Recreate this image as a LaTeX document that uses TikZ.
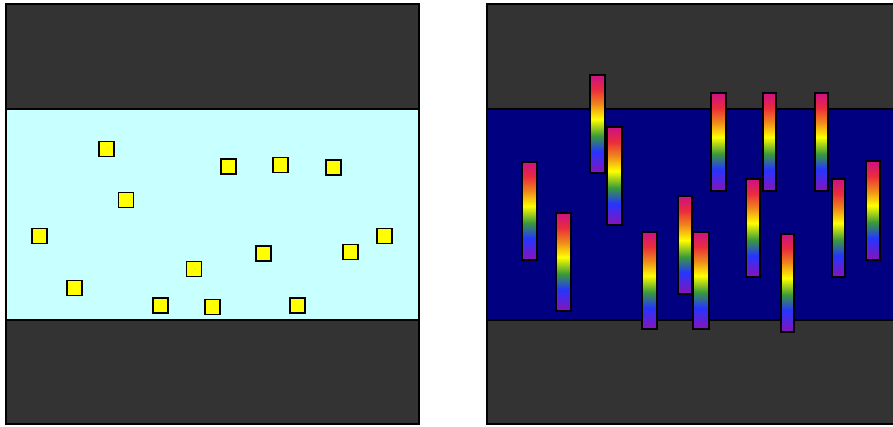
\documentclass[tikz,border=0pt]{standalone}
\usetikzlibrary{shadings}
\definecolor{band}{HTML}{333333}
\definecolor{lcyan}{HTML}{C8FFFF}
\definecolor{navyc}{HTML}{000080}
\definecolor{ryellow}{HTML}{FFFF00}
\definecolor{rbpurple}{HTML}{8A12B8}
\definecolor{rbblue}{HTML}{2535FF}
\definecolor{rbgreen}{HTML}{3A9A3A}
\definecolor{rbyellow}{HTML}{FFFF00}
\definecolor{rborange}{HTML}{F08A1A}
\definecolor{rbred}{HTML}{EA2C3C}
\definecolor{rbmag}{HTML}{CC1188}
\pgfdeclareverticalshading{rainbowbar}{100bp}{color(0bp)=(rbpurple); color(25bp)=(rbpurple); color(36bp)=(rbblue); color(44bp)=(rbgreen); color(52.5bp)=(rbyellow); color(60bp)=(rborange); color(67.5bp)=(rbred); color(75bp)=(rbmag); color(100bp)=(rbmag)}
\tikzset{
  panelline/.style={draw=black, line width=1.2pt},
  sepline/.style={draw=black, line width=1pt},
  sq/.style={draw=black, line width=1.1pt, fill=ryellow},
  rbar/.style={draw=black, line width=1.3pt, shading=rainbowbar}
}
\begin{document}
\begin{tikzpicture}[x=0.75pt,y=-0.75pt]
\useasboundingbox (0,0) rectangle (893,427);
\fill[white] (0,0) rectangle (893,427);
% left panel
\fill[band] (6,4) rectangle (419,109);
\fill[lcyan] (6,109) rectangle (419,320);
\fill[band] (6,320) rectangle (419,424);
\draw[sepline] (6,109) -- (419,109);
\draw[sepline] (6,320) -- (419,320);
\draw[panelline] (6,4) rectangle (419,424);
% squares
\foreach \cx/\cy/\n in {106.7/149/s1, 126/200/s2, 39.5/236/s3, 74.7/288/s4, 194/269/s5, 160.5/305.5/s6, 212.3/307/s7, 228.7/166.7/s8, 280.3/164.8/s9, 333.7/167.5/s10, 263.5/253.7/s11, 350.7/252/s12, 384.7/235.8/s13, 297.5/305.5/s14}{
  \draw[sq] (\cx-7.5,\cy-7.5) rectangle (\cx+7.5,\cy+7.5);
  \coordinate (\n) at (\cx,\cy);
}
% right panel
\fill[band] (487,4) rectangle (894,109);
\fill[navyc] (487,109) rectangle (894,320);
\fill[band] (487,320) rectangle (894,424);
\draw[sepline] (487,109) -- (894,109);
\draw[sepline] (487,320) -- (894,320);
\draw[panelline] (894,4) -- (487,4) -- (487,424) -- (894,424);
% rainbow bars
\foreach \xa/\ya/\xb/\yb/\n in {590/75/605/173/bA, 607/127/622/225/bB, 522/162/537/260/bC, 556/213/571/311/bD, 642/232/657/329/bE, 711/93/726/191/bF, 763/93/776/191/bG, 815/93/828/191/bH, 678/196/692/294/bI, 746/179/760/277/bJ, 832/179/845/277/bK, 866/161/880/260/bL, 693/232/709/329/bM, 781/234/794/332/bN}{
  \draw[rbar] (\xa,\ya) rectangle (\xb,\yb);
  \coordinate (\n) at (\xa,\ya);
}
\end{tikzpicture}
\end{document}
